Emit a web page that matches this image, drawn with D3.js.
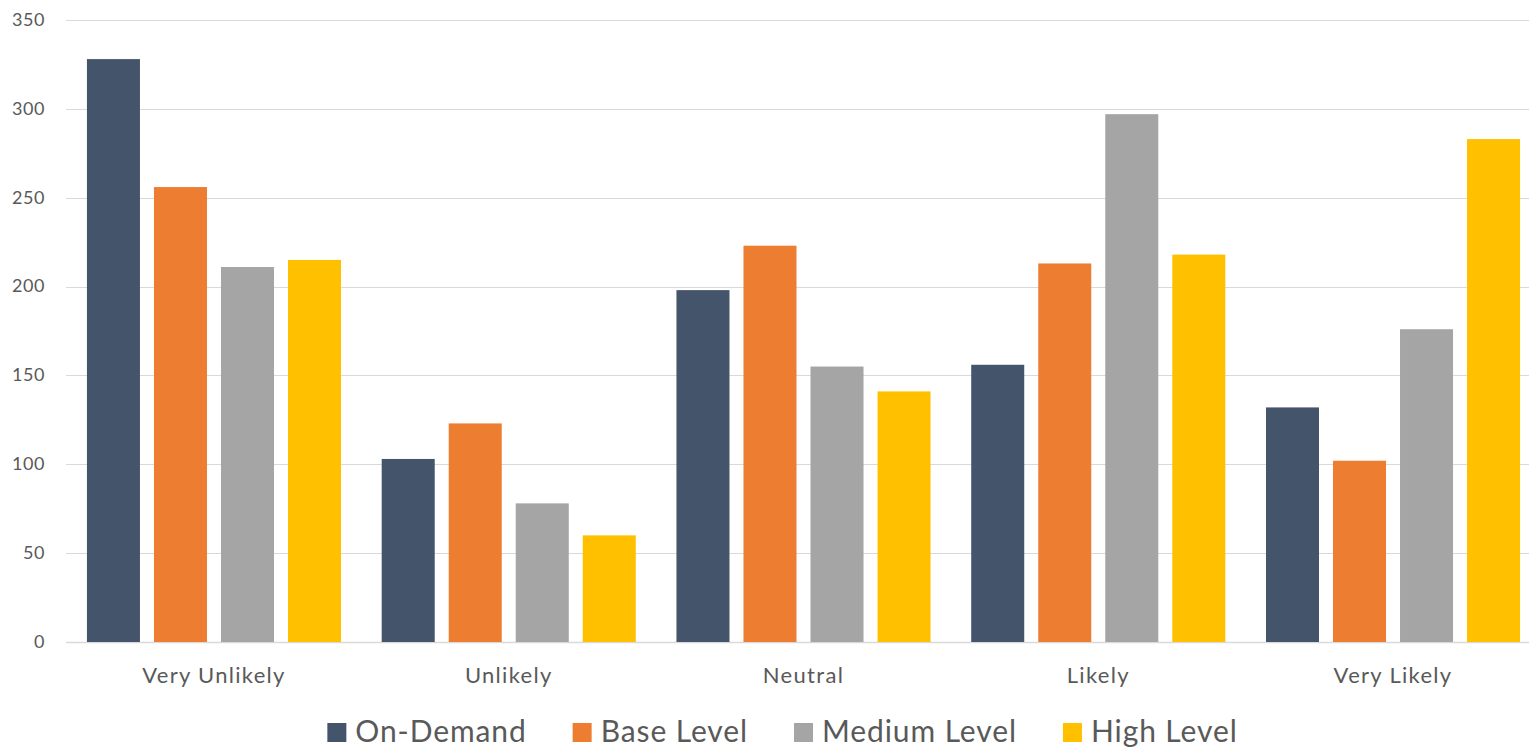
<!DOCTYPE html>
<html>
<head>
<meta charset="utf-8">
<script src="https://cdn.jsdelivr.net/npm/d3@7"></script>
<style>
  html, body { margin: 0; padding: 0; background: #ffffff; }
  svg text { font-family: Lato, "Open Sans", sans-serif; fill: #595959; }
</style>
</head>
<body>
<svg id="chart" width="1529" height="749"></svg>
<script>
const categories = ["Very Unlikely", "Unlikely", "Neutral", "Likely", "Very Likely"];
const seriesNames = ["On-Demand", "Base Level", "Medium Level", "High Level"];
const seriesColors = ["#44546A", "#ED7D31", "#A5A5A5", "#FFC000"];
const onDemand    = [328, 103, 198, 156, 132];
const baseLevel   = [256, 123, 223, 213, 102];
const mediumLevel = [211, 78, 155, 297, 176];
const highLevel   = [215, 60, 141, 218, 283];
const yTicks = [0, 50, 100, 150, 200, 250, 300, 350];

const seriesValues = [onDemand, baseLevel, mediumLevel, highLevel];
const rows = categories.map((c, i) => ({
  category: c,
  values: seriesNames.map((s, j) => ({ series: s, value: seriesValues[j][i], color: seriesColors[j] }))
}));

const svg = d3.select("#chart");
const plotLeft = 66, plotRight = 1529, plotTop = 20, plotBottom = 642;
const fontStack = "Lato, 'Open Sans', sans-serif";

const y = d3.scaleLinear().domain([0, 350]).range([plotBottom, plotTop]);
const x0 = d3.scaleBand().domain(categories).range([66.6, 1540.4])
  .paddingInner(0.138).paddingOuter(0.069);
const x1 = d3.scaleBand().domain(seriesNames).range([0, x0.bandwidth()])
  .paddingInner(0.209).paddingOuter(0);

// horizontal gridlines
svg.append("g").selectAll("line").data(yTicks).join("line")
  .attr("x1", plotLeft).attr("x2", plotRight)
  .attr("y1", d => Math.round(y(d)) + 0.5).attr("y2", d => Math.round(y(d)) + 0.5)
  .attr("stroke", "#d9d9d9").attr("stroke-width", d => d === 0 ? 1.5 : 1.2);

// y axis labels
const yAxis = d3.axisLeft(y).tickValues(yTicks).tickSize(0).tickPadding(0);
const yg = svg.append("g").attr("transform", "translate(45,0)").call(yAxis);
yg.select(".domain").remove();
yg.selectAll("text").attr("font-size", 18).attr("dy", "0.3em")
  .style("font-family", fontStack).style("letter-spacing", "0.6px").attr("fill", "#595959");

// bars
const groups = svg.append("g").selectAll("g").data(rows).join("g")
  .attr("transform", d => `translate(${x0(d.category)},0)`);
groups.selectAll("rect").data(d => d.values).join("rect")
  .attr("x", d => x1(d.series))
  .attr("width", x1.bandwidth())
  .attr("y", d => y(d.value))
  .attr("height", d => y(0) - y(d.value))
  .attr("fill", d => d.color);

// category labels
const xAxis = d3.axisBottom(x0).tickSize(0).tickPadding(0);
const xg = svg.append("g").attr("transform", `translate(0,${plotBottom + 41})`).call(xAxis);
xg.select(".domain").remove();
xg.selectAll("text").attr("font-size", 22).attr("dy", 0)
  .style("font-family", fontStack).style("letter-spacing", "1.3px").attr("fill", "#595959");

// legend
const legend = svg.append("g");
const items = legend.selectAll("g").data(seriesNames).join("g");
items.append("rect").attr("width", 19).attr("height", 19).attr("y", -19)
  .attr("fill", (d, i) => seriesColors[i]);
items.append("text").attr("x", 28).attr("font-size", 30)
  .style("letter-spacing", "0.9px").text(d => d);
let cx = 0;
const gap = 46;
items.each(function () {
  const w = 28 + this.querySelector("text").getComputedTextLength();
  d3.select(this).attr("data-x", cx);
  cx += w + gap;
});
const total = cx - gap;
const startX = 782.5 - total / 2;
items.attr("transform", function () { return `translate(${startX + +this.getAttribute("data-x")},742)`; });
</script>
</body>
</html>
